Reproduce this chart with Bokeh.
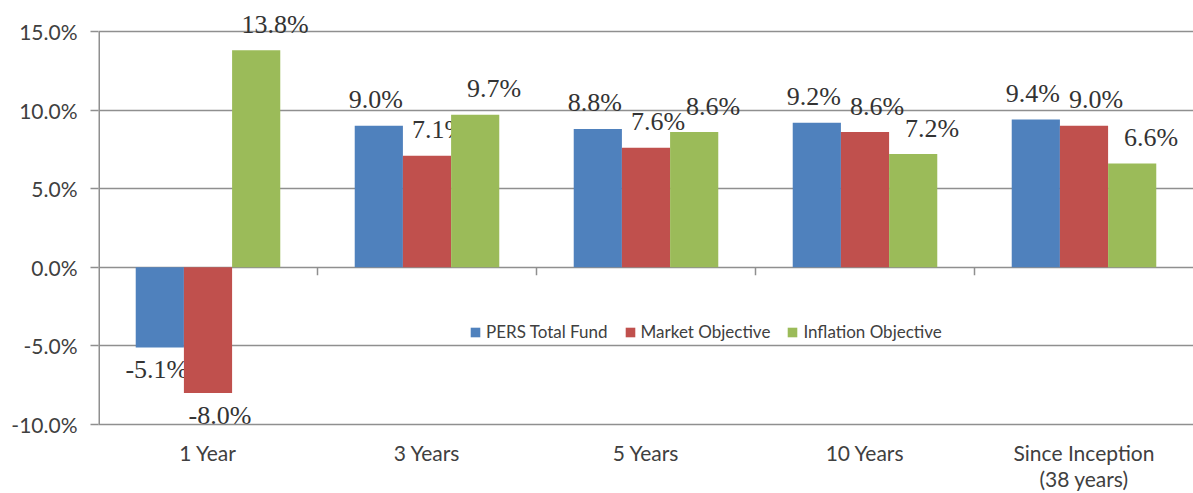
from bokeh.plotting import figure
from bokeh.models import (Range1d, FixedTicker, PrintfTickFormatter, Legend, LegendItem,
                          ColumnDataSource, LinearAxis)
from bokeh.transform import dodge
from bokeh.embed import file_html
from bokeh.resources import INLINE
from bokeh.core.properties import value

# ---- data ----
categories = ["1 Year", "3 Years", "5 Years", "10 Years", "Since Inception"]
category_sublabels = ["", "", "", "", "(38 years)"]
pers_total_fund = [-5.1, 9.0, 8.8, 9.2, 9.4]
market_objective = [-8.0, 7.1, 7.6, 8.6, 9.0]
inflation_objective = [13.8, 9.7, 8.6, 7.2, 6.6]
series_names = ["PERS Total Fund", "Market Objective", "Inflation Objective"]
y_ticks = [-10, -5, 0, 5, 10, 15]

# ---- style ----
colors = ["#4F81BD", "#C0504D", "#9BBB59"]
dodges = [-0.22, 0.0, 0.22]
label_dx = [-3, 12, 19]
grid_color = "#8f8f8f"
text_color = "#404040"
sans = "Lato"
serif = "Liberation Serif"

n = len(categories)
xs = list(range(1, n + 1))

p = figure(width=1193, height=493, output_backend="svg", toolbar_location=None,
           x_range=Range1d(0.5, n + 0.5), y_range=Range1d(-10, 16.97),
           min_border_left=98, min_border_right=0, min_border_top=0, min_border_bottom=69)
p.outline_line_color = None
p.background_fill_color = "white"

# axes
p.yaxis.ticker = FixedTicker(ticks=y_ticks)
p.yaxis.formatter = PrintfTickFormatter(format="%.1f%%")
p.yaxis.axis_line_color = None
p.yaxis.major_tick_out = 8
p.yaxis.major_tick_in = 0
p.yaxis.major_tick_line_color = grid_color
p.yaxis.major_tick_line_width = 1.5
p.yaxis.minor_tick_line_color = None
p.yaxis.major_label_standoff = 13
p.yaxis.major_label_text_font = sans
p.yaxis.major_label_text_font_size = "21px"
p.yaxis.major_label_text_color = text_color


def style_x(ax, standoff):
    ax.major_tick_out = 0
    ax.major_tick_in = 0
    ax.minor_tick_line_color = None
    ax.major_label_standoff = standoff
    ax.major_label_text_font = sans
    ax.major_label_text_font_size = "21px"
    ax.major_label_text_color = text_color


xax = p.xaxis[0]
xax.ticker = FixedTicker(ticks=xs)
xax.major_label_overrides = {x: c for x, c in zip(xs, categories)}
xax.axis_line_color = grid_color
xax.axis_line_width = 1.5
style_x(xax, 15)

# second line of category labels, on a second axis below the first
sub = {x: s for x, s in zip(xs, category_sublabels) if s}
xax2 = LinearAxis(ticker=FixedTicker(ticks=list(sub.keys())), major_label_overrides=sub)
xax2.axis_line_color = None
style_x(xax2, -2)
p.add_layout(xax2, "below")

p.xgrid.grid_line_color = None
p.ygrid.ticker = FixedTicker(ticks=y_ticks)
p.ygrid.grid_line_color = grid_color
p.ygrid.grid_line_width = 1.5

# vertical axis line (only from -10 to 15)
p.segment(x0=[0.5], y0=[min(y_ticks)], x1=[0.5], y1=[max(y_ticks)],
          line_color=grid_color, line_width=3)
# category boundary ticks on the zero line
bx = [x + 0.5 for x in xs[:-1]]
p.segment(x0=bx, y0=[0] * len(bx), x1=bx, y1=[-0.5] * len(bx),
          line_color=grid_color, line_width=1.5)

items = []
for vals, name, col, dd, ldx in zip([pers_total_fund, market_objective, inflation_objective],
                                    series_names, colors, dodges, label_dx):
    src = ColumnDataSource(dict(
        x=xs, v=vals,
        lab=[f"{v:.1f}%" for v in vals],
        base=["alphabetic" if v >= 0 else "top" for v in vals],
        yoff=[-26 if v >= 0 else 8 for v in vals],
    ))
    r = p.vbar(x=dodge("x", dd), top="v", bottom=0, width=0.22, source=src,
               fill_color=col, line_color=None)
    p.text(x=dodge("x", dd), y="v", text="lab", source=src,
           text_font=value(serif), text_font_size="26px", text_color="#333333",
           text_align="center", text_baseline="base", x_offset=ldx, y_offset="yoff")
    items.append(LegendItem(label=name, renderers=[r]))

legend = Legend(items=items, orientation="horizontal", location=(371, 82),
                glyph_width=12, glyph_height=12, label_standoff=5, spacing=16,
                padding=0, margin=0, border_line_color=None, background_fill_alpha=0,
                label_text_font=sans, label_text_font_size="17px",
                label_text_color=text_color)
p.add_layout(legend)

open("out.html", "w").write(file_html(p, INLINE))
